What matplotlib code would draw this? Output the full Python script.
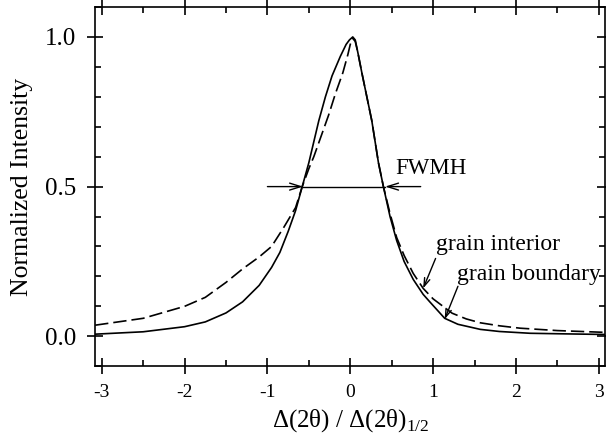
import matplotlib
matplotlib.use('Agg')
import matplotlib.pyplot as plt
import numpy as np

plt.rcParams['font.family'] = ['Liberation Serif', 'DejaVu Serif']
plt.rcParams['mathtext.fontset'] = 'custom'
plt.rcParams['mathtext.rm'] = 'Liberation Serif'
plt.rcParams['axes.unicode_minus'] = False

# grain boundary (solid)
x_gb = [-3.08, -2.5, -2.0, -1.75, -1.5, -1.3, -1.1, -0.95, -0.85, -0.75, -0.66,
        -0.58, -0.5, -0.38, -0.3, -0.22, -0.12, -0.05, -0.01, 0.03, 0.06, 0.09,
        0.14, 0.2, 0.26, 0.34, 0.4, 0.48, 0.56, 0.65, 0.76, 0.88, 0.96, 1.14,
        1.3, 1.57, 1.8, 2.17, 2.6, 3.08]
y_gb = [0.007, 0.015, 0.032, 0.048, 0.078, 0.115, 0.17, 0.23, 0.28, 0.35, 0.42,
        0.50, 0.58, 0.72, 0.80, 0.87, 0.935, 0.975, 0.99, 1.0, 0.99, 0.95,
        0.88, 0.80, 0.72, 0.58, 0.50, 0.40, 0.32, 0.25, 0.19, 0.14, 0.115, 0.06,
        0.04, 0.023, 0.016, 0.01, 0.008, 0.006]

# grain interior (dashed)
x_gi = [-3.08, -2.5, -2.0, -1.75, -1.5, -1.3, -1.1, -0.95, -0.8, -0.66, -0.58,
        -0.5, -0.44, -0.35, -0.26, -0.18, -0.09, -0.03, 0.0, 0.03, 0.06, 0.09,
        0.14, 0.2, 0.26, 0.34, 0.4, 0.48, 0.56, 0.65, 0.76, 0.88, 1.0, 1.23,
        1.4, 1.57, 1.8, 2.05, 2.5, 3.08]
y_gi = [0.037, 0.06, 0.10, 0.13, 0.18, 0.225, 0.265, 0.30, 0.365, 0.43, 0.50,
        0.56, 0.60, 0.67, 0.74, 0.81, 0.88, 0.94, 0.975, 0.995, 0.985, 0.95,
        0.88, 0.80, 0.72, 0.58, 0.50, 0.41, 0.33, 0.27, 0.21, 0.16, 0.125, 0.077,
        0.058, 0.045, 0.035, 0.027, 0.019, 0.013]

fig = plt.figure(figsize=(6.06, 4.37), dpi=100)
ax = fig.add_axes([0.157, 0.162, 0.842, 0.822])

ax.plot(x_gb, y_gb, '-', color='black', lw=1.2)
ax.plot(x_gi, y_gi, '--', color='black', lw=1.2, dashes=(8, 3))

ax.set_xlim(-3.08, 3.08)
ax.set_ylim(-0.1, 1.1)
ax.set_xticks([-3, -2, -1, 0, 1, 2, 3])
ax.set_xticks(np.arange(-3, 3.01, 0.5), minor=True)
ax.set_yticks([0.0, 0.5, 1.0])
ax.set_yticks(np.arange(-0.1, 1.11, 0.1), minor=True)
ax.set_yticklabels(['0.0', '0.5', '1.0'])
ax.tick_params(which='major', direction='inout', length=11, width=1.2,
               top=True, right=True)
ax.tick_params(which='minor', direction='in', length=4, width=1.2,
               top=True, right=True)
ax.tick_params(axis='x', labelsize=14, pad=7)
ax.tick_params(axis='y', labelsize=18, pad=8)
for s in ax.spines.values():
    s.set_linewidth(1.2)

ax.set_xlabel('Δ(2θ) / Δ(2θ)$_{1/2}$', fontsize=18, labelpad=5)
ax.set_ylabel('Normalized Intensity', fontsize=18.5, labelpad=9)

# FWHM marker
ax.plot([-0.57, 0.42], [0.5, 0.5], color='black', lw=1.0)
arr = dict(arrowstyle='->,head_length=0.8,head_width=0.25', color='black', lw=1.0,
           shrinkA=0, shrinkB=0)
ax.annotate('', xy=(-0.57, 0.5), xytext=(-1.0, 0.5), arrowprops=arr)
ax.annotate('', xy=(0.42, 0.5), xytext=(0.85, 0.5), arrowprops=arr)
ax.text(0.54, 0.56, 'FWMH', fontsize=16.5, va='center', ha='left')

arr2 = dict(arrowstyle='->,head_length=0.6,head_width=0.2', color='black', lw=1.0,
            shrinkA=0, shrinkB=0)
ax.text(1.03, 0.307, 'grain interior', fontsize=17, va='center', ha='left')
ax.annotate('', xy=(0.88, 0.16), xytext=(1.03, 0.26), arrowprops=arr2)
ax.text(1.29, 0.207, 'grain boundary', fontsize=17, va='center', ha='left')
ax.annotate('', xy=(1.14, 0.057), xytext=(1.3, 0.167), arrowprops=arr2)

fig.savefig('out.png', dpi=100)
